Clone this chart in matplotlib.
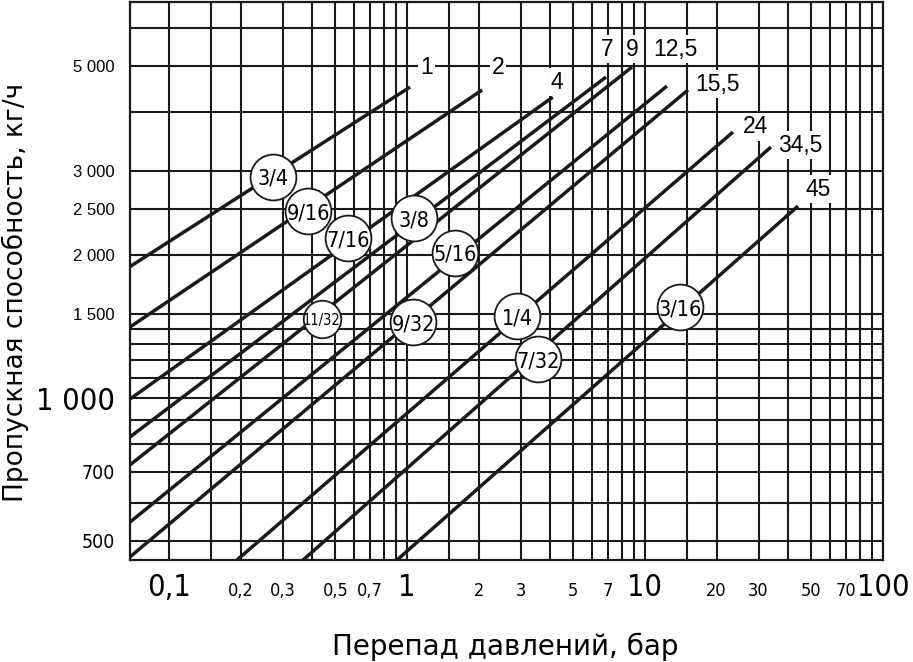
import matplotlib
matplotlib.use('Agg')
import matplotlib.pyplot as plt
from matplotlib import font_manager as fm
from matplotlib.ticker import NullFormatter

# orifice size (circle) and max pressure drop (end label) for every line
orifice = ['3/4', '9/16', '7/16', '3/8', '11/32', '5/16', '9/32', '1/4', '7/32', '3/16']
max_dp = ['1', '2', '4', '7', '9', '12,5', '15,5', '24', '34,5', '45']

# line start / end, bar and kg/h
dp_start = [0.0686, 0.0686, 0.0686, 0.0686, 0.0686, 0.0686, 0.0686, 0.193, 0.366, 0.908]
flow_start = [1891, 1411, 995, 828, 723, 548, 463, 456, 456, 456]
dp_end = [1.03, 2.07, 4.1, 6.86, 8.82, 12.37, 15.16, 23.43, 33.83, 43.95]
flow_end = [4516, 4452, 4301, 4740, 4976, 4538, 4452, 3631, 3377, 2536]

# where the circle tags sit
circle_dp = [0.2735, 0.384, 0.565, 1.07, 0.439, 1.59, 1.06, 2.90, 3.55, 14.0]
circle_flow = [2920, 2476, 2172, 2393, 1467, 2020, 1445, 1488, 1208, 1554]

# where the end labels sit
end_dp = [1.213, 2.412, 4.27, 6.92, 8.82, 13.37, 20.26, 29.0, 44.8, 53.3]
end_flow = [4976, 4976, 4627, 5429, 5429, 5429, 4582, 3721, 3409, 2754]

x_grid = [0.1, 0.15, 0.2, 0.3, 0.4, 0.5, 0.6, 0.7, 0.8, 0.9,
          1, 1.5, 2, 3, 4, 5, 6, 7, 8, 9,
          10, 15, 20, 30, 40, 50, 60, 70, 80, 90, 100]
y_grid = [500, 600, 700, 800, 900, 1000, 1100, 1200, 1300, 1400, 1500,
          2000, 2500, 3000, 4000, 5000, 6000]

x_ticks = [0.1, 0.2, 0.3, 0.5, 0.7, 1, 2, 3, 5, 7, 10, 20, 30, 50, 70, 100]
x_labels = ['0,1', '0,2', '0,3', '0,5', '0,7', '1', '2', '3', '5', '7',
            '10', '20', '30', '50', '70', '100']
y_ticks = [500, 700, 1000, 1500, 2000, 2500, 3000, 5000]
y_labels = ['500', '700', '1 000', '1 500', '2 000', '2 500', '3 000', '5 000']

ink = '#1a1a1a'


def narrow_font(size):
    # a condensed face if one is installed, else plain Liberation Sans a bit smaller
    names = {f.name for f in fm.fontManager.ttflist}
    if 'Liberation Sans Narrow' in names:
        return fm.FontProperties(family='Liberation Sans Narrow', size=size)
    cond = fm.FontProperties(family='DejaVu Sans', stretch='condensed', size=size)
    if 'Condensed' in fm.findfont(cond):
        return cond
    return fm.FontProperties(family='Liberation Sans', size=size * 0.85)


def main():
    fig = plt.figure(figsize=(9.13, 6.62), dpi=100)
    ax = fig.add_axes([130 / 913, 1 - 560 / 662, 753 / 913, 558 / 662])
    ax.set_xscale('log')
    ax.set_yscale('log')
    ax.set_xlim(0.0686, 100)
    ax.set_ylim(456, 6820)

    ax.set_xticks(x_grid, minor=True)
    ax.set_yticks(y_grid, minor=True)
    ax.set_xticks(x_ticks, x_labels)
    ax.set_yticks(y_ticks, y_labels)
    ax.xaxis.set_minor_formatter(NullFormatter())
    ax.yaxis.set_minor_formatter(NullFormatter())
    ax.grid(True, which='both', color=ink, linewidth=1.5)
    ax.set_axisbelow(True)
    ax.tick_params(which='both', length=0)
    ax.tick_params(axis='x', which='major', pad=26)
    ax.tick_params(axis='y', which='major', pad=11)
    for sp in ax.spines.values():
        sp.set_linewidth(1.6)
        sp.set_color(ink)

    for lab in ax.get_xticklabels():
        big = lab.get_text() in ('0,1', '1', '10', '100')
        lab.set_fontproperties(narrow_font(22 if big else 13))
        lab.set_verticalalignment('baseline')
    for lab in ax.get_yticklabels():
        t = lab.get_text()
        if t == '1 000':
            lab.set_fontproperties(narrow_font(22))
        elif t in ('500', '700'):
            lab.set_fontproperties(narrow_font(14))
        else:
            lab.set_fontproperties(fm.FontProperties(family='Liberation Sans', size=12))

    for i in range(len(orifice)):
        ax.plot([dp_start[i], dp_end[i]], [flow_start[i], flow_end[i]],
                color=ink, linewidth=2.5, solid_capstyle='butt', zorder=3)
        small = orifice[i] == '11/32'
        ax.plot(circle_dp[i], circle_flow[i], 'o', ms=27 if small else 33,
                mfc='white', mec=ink, mew=1.3, zorder=4)
        ax.text(circle_dp[i], circle_flow[i], orifice[i], ha='center',
                va='center_baseline', fontproperties=narrow_font(10.5 if small else 15.5),
                zorder=5)
        ax.text(end_dp[i], end_flow[i], max_dp[i], ha='center', va='center',
                fontsize=16.5, family='Liberation Sans', zorder=5,
                bbox=dict(facecolor='white', edgecolor='none', pad=1.5))

    fig.text(505 / 913, 7 / 662, 'Перепад давлений, бар', ha='center',
             va='baseline', fontsize=20, family='DejaVu Sans')
    fig.text(15 / 913, 1 - 292 / 662, 'Пропускная способность, кг/ч',
             ha='center', va='center', rotation=90, fontsize=19,
             family='DejaVu Sans')

    fig.savefig('out.png', dpi=100)


if __name__ == '__main__':
    main()
